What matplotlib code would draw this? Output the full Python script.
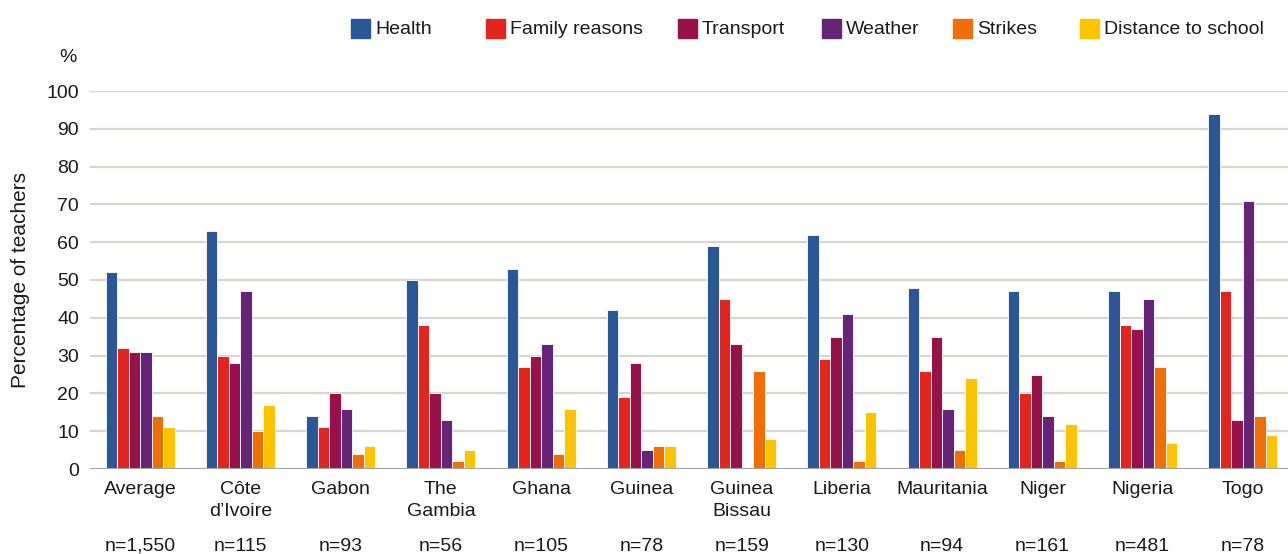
import numpy as np
import matplotlib
matplotlib.use("Agg")
import matplotlib.pyplot as plt
from matplotlib.patches import Rectangle

plt.rcParams['font.family'] = ['Liberation Sans', 'DejaVu Sans']

# Data
countries = ["Average", "Côte\nd’Ivoire", "Gabon", "The\nGambia", "Ghana", "Guinea",
             "Guinea\nBissau", "Liberia", "Mauritania", "Niger", "Nigeria", "Togo"]
sample_sizes = ["n=1,550", "n=115", "n=93", "n=56", "n=105", "n=78",
                "n=159", "n=130", "n=94", "n=161", "n=481", "n=78"]

health = [52, 63, 14, 50, 53, 42, 59, 62, 48, 47, 47, 94]
family = [32, 30, 11, 38, 27, 19, 45, 29, 26, 20, 38, 47]
transport = [31, 28, 20, 20, 30, 28, 33, 35, 35, 25, 37, 13]
weather = [31, 47, 16, 13, 33, 5, 0, 41, 16, 14, 45, 71]
strikes = [14, 10, 4, 2, 4, 6, 26, 2, 5, 2, 27, 14]
distance = [11, 17, 6, 5, 16, 6, 8, 15, 24, 12, 7, 9]

series = [health, family, transport, weather, strikes, distance]
labels = ["Health", "Family reasons", "Transport", "Weather", "Strikes", "Distance to school"]
colors = ["#2b5797", "#e2261f", "#97124b", "#662476", "#ef6e07", "#fcc300"]

W, H = 1288, 554
fig = plt.figure(figsize=(W / 100, H / 100), dpi=100)
ax = fig.add_axes([90 / W, 1 - 469 / H, 1 - 90 / W, (469 - 91) / H])

x = np.arange(len(countries))
width = 0.115
for i, (vals, col) in enumerate(zip(series, colors)):
    ax.bar(x + (i - 2.5) * width, vals, width, color=col, edgecolor="white",
           linewidth=0.6, zorder=3)

ax.set_xlim(-0.5, 11.45)
ax.set_ylim(0, 100)
ax.set_yticks(range(0, 101, 10))
ax.grid(axis="y", color="#d8d4cf", linewidth=1.6, zorder=0)
ax.axhline(0, color="#a3a3a3", linewidth=2.2, zorder=4)
for s in ax.spines.values():
    s.set_visible(False)
ax.tick_params(axis="y", length=0, pad=8, labelsize=14, labelcolor="#1a1a1a")
ax.tick_params(axis="x", length=0, pad=9, labelsize=14, labelcolor="#1a1a1a")
ax.set_xticks(x)
ax.set_xticklabels(countries, linespacing=1.35)

ax.set_ylabel("Percentage of teachers", fontsize=15, color="#1a1a1a", labelpad=12)

for xi, n in zip(x, sample_sizes):
    ax.text(xi, -0.204, n, transform=ax.get_xaxis_transform(), ha="center",
            va="center", fontsize=14, color="#1a1a1a")

fig.text(68 / W, 1 - 58 / H, "%", ha="center", va="center", fontsize=14, color="#1a1a1a")

# legend drawn along the top
patch_x = [351, 486, 678, 822, 953, 1080]
for px, lab, col in zip(patch_x, labels, colors):
    fig.patches.append(Rectangle((px / W, 1 - 38 / H), 19 / W, 19 / H,
                                 transform=fig.transFigure, color=col))
    fig.text((px + 24) / W, 1 - 30 / H, lab, ha="left", va="center",
             fontsize=14, color="#1a1a1a")

fig.savefig("out.png", dpi=100)
